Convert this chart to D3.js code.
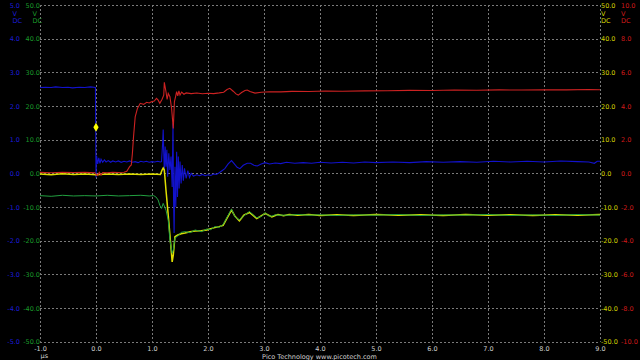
<!DOCTYPE html>
<html><head><meta charset="utf-8">
<script src="https://cdn.jsdelivr.net/npm/d3@7"></script>
<style>
html,body{margin:0;padding:0;background:#000;}
svg{display:block;}
text{font-family:"DejaVu Sans",sans-serif;font-size:6.5px;}
</style></head>
<body>
<svg id="c" width="640" height="360"></svg>
<script>
// time axis (µs)
const timeTicks = [-1,0,1,2,3,4,5,6,7,8,9];
const timeUnit = "µs";
// vertical ranges of each channel
const rangeA = [-5, 5];    // blue, V
const rangeB = [-10, 10];  // red, V
const rangeC = [-50, 50];  // yellow, V
const rangeD = [-50, 50];  // green, V
const ticksA = [5,4,3,2,1,0,-1,-2,-3,-4,-5];
const ticksB = [10,8,6,4,2,0,-2,-4,-6,-8,-10];
const ticksC = [50,40,30,20,10,0,-10,-20,-30,-40,-50];
const ticksD = [50,40,30,20,10,0,-10,-20,-30,-40,-50];
const unitLabels = ["V","DC"];
const footer = "Pico Technology   www.picotech.com";
// trigger (channel A)
const triggerTime = 0;
const triggerLevel = 1.37;

// channel A (blue) [µs, V]
const channelA = [[-1.00,2.55],[-0.90,2.56],[-0.80,2.55],[-0.72,2.57],[-0.60,2.55],[-0.50,2.56],[-0.42,2.54],[-0.30,2.56],[-0.20,2.55],[-0.10,2.57],[-0.01,2.55],
[0.00,-0.12],[0.01,0.52],[0.03,0.28],[0.05,0.46],[0.07,0.30],[0.09,0.42],[0.12,0.33],[0.15,0.40],[0.18,0.34],[0.22,0.38],[0.26,0.33],[0.30,0.37],[0.35,0.34],[0.40,0.37],[0.45,0.33],[0.50,0.36],[0.55,0.34],[0.60,0.37],[0.65,0.33],[0.70,0.35],[0.75,0.32],[0.80,0.36],[0.85,0.34],[0.90,0.36],[0.95,0.33],[1.00,0.35],[1.05,0.34],[1.10,0.36],[1.15,0.34],
[1.17,0.35],[1.19,0.90],[1.20,1.30],[1.21,0.60],[1.22,0.00],[1.235,0.80],[1.25,0.20],[1.265,0.70],[1.28,-0.10],[1.30,0.60],[1.32,0.10],[1.34,0.50],[1.36,-0.40],[1.375,1.49],[1.385,-0.80],[1.395,-1.77],[1.41,0.20],[1.425,-1.00],[1.44,0.64],[1.455,-0.70],[1.47,0.50],[1.485,-0.45],[1.50,0.35],[1.52,-0.30],[1.54,0.25],[1.56,-0.22],[1.58,0.15],[1.61,-0.15],[1.64,0.08],[1.67,-0.12],[1.70,0.00],[1.74,-0.08],[1.80,-0.04],[1.85,-0.07],[1.90,-0.03],[1.95,-0.07],[2.00,-0.04],[2.05,-0.06],[2.10,-0.02],[2.15,-0.03],[2.20,0.02],[2.25,0.08],[2.30,0.14],[2.36,0.28],[2.42,0.38],[2.47,0.28],[2.52,0.18],[2.57,0.14],[2.63,0.24],[2.70,0.30],[2.76,0.30],[2.82,0.24],[2.88,0.22],[2.95,0.28],[3.02,0.32],[3.10,0.28],[3.20,0.31],[3.30,0.29],[3.40,0.33],[3.55,0.30],[3.70,0.32],[3.85,0.30],[4.00,0.33],[4.20,0.31],[4.40,0.33],[4.60,0.31],[4.80,0.34],[5.00,0.32],[5.30,0.34],[5.60,0.32],[5.90,0.35],[6.20,0.33],[6.50,0.35],[6.80,0.33],[7.10,0.36],[7.40,0.34],[7.70,0.36],[8.00,0.34],[8.30,0.37],[8.60,0.35],[8.80,0.34],[8.90,0.30],[8.95,0.36],[9.00,0.36]];

// channel B (red) [µs, V]
const channelB = [[-1.00,0.06],[-0.80,0.04],[-0.60,0.07],[-0.40,0.05],[-0.20,0.06],[-0.02,0.04],[0.00,-0.05],[0.03,-0.12],[0.06,0.06],[0.09,-0.10],[0.12,0.05],[0.20,0.04],[0.30,0.07],[0.40,0.05],[0.50,0.07],[0.55,0.12],[0.60,0.40],[0.63,0.50],[0.65,1.19],[0.67,2.17],[0.70,3.36],[0.74,3.86],[0.79,4.16],[0.85,4.10],[0.905,4.22],[0.95,4.18],[0.99,4.26],[1.04,4.30],[1.08,4.46],[1.11,4.35],[1.14,4.16],[1.18,4.40],[1.21,4.65],[1.22,5.41],[1.25,4.85],[1.27,4.40],[1.29,4.75],[1.32,4.55],[1.35,3.86],[1.38,2.67],[1.40,4.25],[1.42,4.55],[1.44,4.85],[1.46,4.60],[1.48,4.90],[1.50,4.65],[1.53,4.83],[1.57,4.70],[1.61,4.78],[1.70,4.74],[1.80,4.77],[1.90,4.73],[2.00,4.76],[2.10,4.74],[2.20,4.78],[2.28,4.82],[2.34,4.98],[2.39,5.05],[2.45,4.88],[2.50,4.72],[2.54,4.65],[2.60,4.80],[2.66,4.92],[2.70,4.95],[2.75,4.86],[2.84,4.77],[2.95,4.82],[3.10,4.85],[3.30,4.84],[3.50,4.87],[3.80,4.86],[4.10,4.89],[4.40,4.88],[4.80,4.90],[5.20,4.91],[5.60,4.93],[6.00,4.92],[6.40,4.95],[6.80,4.94],[7.20,4.96],[7.60,4.95],[8.00,4.97],[8.40,4.96],[8.80,4.98],[9.00,4.97]];

// channel C (yellow) [µs, V]
const channelC = [[-1.0,-0.2],[-0.8,-0.4],[-0.6,-0.1],[-0.4,-0.3],[-0.2,-0.15],[0.0,-0.4],[0.2,-0.2],[0.4,-0.35],[0.6,-0.15],[0.8,-0.3],[1.0,-0.2],[1.15,-0.3],[1.18,1.0],[1.20,1.6],[1.22,1.0],[1.25,-5.0],[1.29,-12.4],[1.32,-18.3],[1.36,-26.3],[1.38,-24.3],[1.41,-18.8],[1.46,-18.3],[1.52,-17.9],[1.59,-17.7],[1.68,-17.3],[1.77,-17.1],[1.88,-17.0],[1.98,-16.8],[2.05,-16.4],[2.12,-16.1],[2.20,-15.8],[2.27,-15.4],[2.34,-13.3],[2.42,-10.9],[2.48,-12.7],[2.56,-14.1],[2.64,-12.4],[2.74,-11.6],[2.80,-12.4],[2.87,-13.4],[2.95,-12.6],[3.02,-11.9],[3.08,-12.4],[3.14,-12.9],[3.20,-12.5],[3.25,-12.2],[3.35,-12.6],[3.45,-12.2],[3.60,-12.4],[3.80,-12.2],[4.00,-12.5],[4.30,-12.3],[4.60,-12.5],[5.00,-12.2],[5.40,-12.4],[5.80,-12.3],[6.20,-12.5],[6.60,-12.2],[7.00,-12.4],[7.40,-12.3],[7.80,-12.5],[8.20,-12.3],[8.60,-12.4],[9.00,-12.2]];

// channel D (green) [µs, V]
const channelD = [[-1.0,-6.6],[-0.8,-6.8],[-0.6,-6.5],[-0.4,-6.7],[-0.2,-6.6],[0.0,-6.7],[0.2,-6.5],[0.4,-6.7],[0.6,-6.6],[0.8,-6.5],[0.95,-6.7],[1.03,-6.6],[1.07,-7.0],[1.11,-7.9],[1.14,-9.5],[1.17,-10.4],[1.20,-8.9],[1.25,-10.9],[1.29,-13.9],[1.32,-19.8],[1.36,-23.7],[1.38,-22.8],[1.41,-19.2],[1.46,-18.6],[1.52,-17.5],[1.59,-17.3],[1.68,-17.6],[1.77,-16.8],[1.88,-17.3],[1.98,-16.5],[2.05,-16.7],[2.12,-15.8],[2.20,-16.0],[2.27,-15.2],[2.34,-13.0],[2.42,-10.6],[2.48,-12.9],[2.56,-13.8],[2.64,-12.6],[2.74,-11.3],[2.80,-12.2],[2.87,-13.2],[2.95,-12.8],[3.02,-11.7],[3.08,-12.6],[3.14,-12.7],[3.20,-12.3],[3.25,-12.4],[3.35,-12.4],[3.45,-12.4],[3.60,-12.2],[3.80,-12.4],[4.00,-12.3],[4.30,-12.5],[4.60,-12.3],[5.00,-12.4],[5.40,-12.2],[5.80,-12.5],[6.20,-12.3],[6.60,-12.4],[7.00,-12.2],[7.40,-12.5],[7.80,-12.3],[8.20,-12.5],[8.60,-12.2],[9.00,-12.4]];

const col = {A:"#1212cc", B:"#cc2222", C:"#dede00", D:"#22a040",
             lA:"#1c1cd8", lB:"#d01a1a", lC:"#d4d400", lD:"#1a9a2a",
             grid:"#7a7a7a", text:"#d0d0d0"};

const L = 40, R = 600, T = 5, B = 341.8;
const svg = d3.select("#c");
const x = d3.scaleLinear().domain([timeTicks[0], timeTicks[timeTicks.length-1]]).range([L, R]);
const yA = d3.scaleLinear().domain(rangeA).range([B, T]);
const yB = d3.scaleLinear().domain(rangeB).range([B, T]);
const yC = d3.scaleLinear().domain(rangeC).range([B, T]);
const yD = d3.scaleLinear().domain(rangeD).range([B, T]);
const fmt = d => d.toFixed(1);

// grid
const grid = svg.append("g");
grid.selectAll("line.h").data(ticksA).join("line")
  .attr("x1", L).attr("x2", R).attr("y1", d => Math.round(yA(d))+0.5).attr("y2", d => Math.round(yA(d))+0.5)
  .attr("stroke", col.grid).attr("stroke-dasharray", "2,2");
grid.selectAll("line.v").data(timeTicks).join("line")
  .attr("y1", T).attr("y2", B).attr("x1", d => Math.round(x(d))+0.5).attr("x2", d => Math.round(x(d))+0.5)
  .attr("stroke", col.grid).attr("stroke-dasharray", "2,2");

// axes
function styleAxis(g, color) {
  g.select(".domain").remove();
  g.selectAll(".tick line").remove();
  g.attr("fill", color);
  g.selectAll("text").attr("fill", color).style("font-family", "DejaVu Sans").style("font-size", "6.5px");
}
svg.append("g").attr("transform", "translate(20,0)")
  .call(d3.axisLeft(yA).tickValues(ticksA).tickFormat(fmt).tickSize(0).tickPadding(0))
  .call(g => styleAxis(g, col.lA));
svg.append("g").attr("transform", "translate(40,0)")
  .call(d3.axisLeft(yD).tickValues(ticksD).tickFormat(fmt).tickSize(0).tickPadding(0))
  .call(g => styleAxis(g, col.lD));
svg.append("g").attr("transform", "translate(601,0)")
  .call(d3.axisRight(yC).tickValues(ticksC).tickFormat(fmt).tickSize(0).tickPadding(0))
  .call(g => styleAxis(g, col.lC));
svg.append("g").attr("transform", "translate(621,0)")
  .call(d3.axisRight(yB).tickValues(ticksB).tickFormat(fmt).tickSize(0).tickPadding(0))
  .call(g => styleAxis(g, col.lB));
svg.append("g").attr("transform", `translate(0,${B})`)
  .call(d3.axisBottom(x).tickValues(timeTicks).tickFormat(fmt).tickSize(0).tickPadding(5))
  .call(g => styleAxis(g, col.text));

// unit labels
[[12.5, col.lA],[32.5, col.lD],[601, col.lC],[621, col.lB]].forEach(([px, c]) => {
  unitLabels.forEach((u, i) => {
    svg.append("text").attr("x", px).attr("y", 13.5 + i*7.3).attr("dy", "0.32em")
      .attr("fill", c).text(u);
  });
});
svg.append("text").attr("x", 40.5).attr("y", 356).attr("dy", "0.32em").attr("fill", col.text).text(timeUnit);
svg.append("text").attr("x", 319.5).attr("y", 356.5).attr("dy", "0.32em").attr("text-anchor", "middle")
  .attr("fill", col.text).text(footer);

// traces
const plot = svg.append("g");
function trace(data, ys, color, w) {
  plot.append("path").datum(data)
    .attr("d", d3.line().x(d => x(d[0])).y(d => ys(d[1])))
    .attr("fill", "none").attr("stroke", color).attr("stroke-width", w);
}
trace(channelA, yA, col.A, 1.1);
trace(channelC, yC, col.C, 1.5);
trace(channelB, yB, col.B, 1.1);
trace(channelD, yD, col.D, 1.0);

// trigger marker
svg.append("path").attr("d", d3.symbol(d3.symbolDiamond, 24)())
  .attr("transform", `translate(${x(triggerTime)},${yA(triggerLevel)})`)
  .attr("fill", "#ffff00");
</script>
</body></html>
